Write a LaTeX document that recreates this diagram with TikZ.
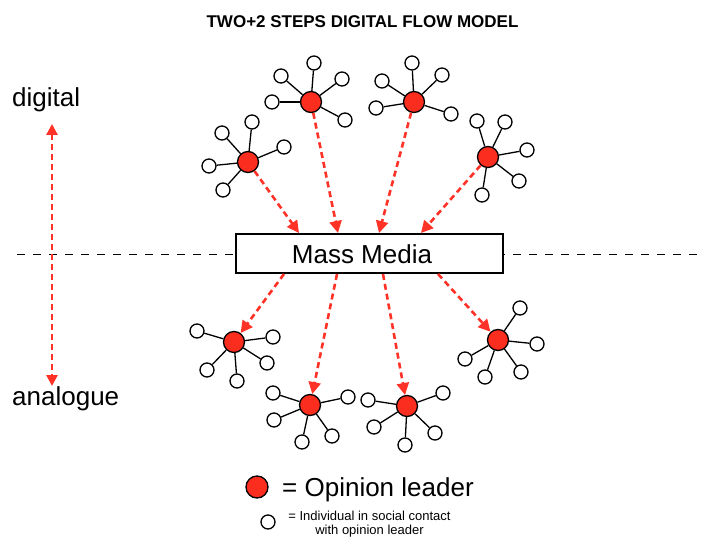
\documentclass[tikz,border=0pt]{standalone}
\usepackage{fontspec}
\setmainfont{Liberation Sans}
\usetikzlibrary{arrows.meta}
\definecolor{leaderred}{RGB}{250,45,30}
\definecolor{arrowred}{RGB}{255,50,40}
\tikzset{
  leader/.style={circle, draw=black, line width=1.3pt, fill=leaderred, minimum size=21pt, inner sep=0pt},
  sat/.style={circle, draw=black, line width=1.3pt, fill=white, minimum size=14pt, inner sep=0pt},
  tie/.style={draw=black, line width=1.3pt},
  flow/.style={draw=arrowred, line width=2.6pt, dash pattern=on 6pt off 4pt, -{Triangle[length=12pt,width=12pt]}},
  both/.style={draw=arrowred, line width=2.6pt, dash pattern=on 6pt off 4pt, {Triangle[length=11pt,width=11pt]}-{Triangle[length=11pt,width=11pt]}},
  divider/.style={draw=black, line width=1pt, dash pattern=on 8pt off 8pt},
  mediabox/.style={draw=black, line width=1.2pt, fill=white, minimum width=267pt, minimum height=39pt, inner sep=0pt},
  bigtext/.style={inner sep=0pt, font=\fontsize{26}{30}\selectfont},
}
\newcommand{\cluster}[3]{%
  \node[leader] (#1) at #2 {};
  \foreach \p [count=\i] in {#3} {
    \node[sat] (#1s\i) at \p {};
    \draw[tie] (#1) -- (#1s\i);
  }
}
\begin{document}
\begin{tikzpicture}[x=1pt,y=-1pt]
\useasboundingbox (0,0) rectangle (709,540);

% title
\node[inner sep=0pt, anchor=base, font=\fontsize{17}{20}\selectfont\bfseries] (title) at (362.5,28) {TWO+2 STEPS DIGITAL FLOW MODEL};

% divider line
\coordinate (dl) at (17,254);
\coordinate (dr) at (702,254);
\draw[divider] (dl) -- (dr);

% side labels and arrow
\node[bigtext, anchor=base west] (digital) at (12,107) {digital};
\node[bigtext, anchor=base west] (analogue) at (12,405) {analogue};
\coordinate (vtop) at (52,124);
\coordinate (vbot) at (52,386);
\draw[both] (vtop) -- (vbot);

% mass media box
\node[mediabox] (mm) at (369.5,253.5) {};
\node[bigtext] (mmtext) at (362,254) {Mass Media};

% top
\cluster{ca}{(248,162)}{(252,122),(222,133),(284,147),(209,166),(223,190)}
\cluster{cb}{(311,102)}{(314,63),(281,76),(342,79),(272,102),(345,120)}
\cluster{cc}{(414,102)}{(412,63),(382,81),(442,75),(376,108),(451,114)}
\cluster{cd}{(488,157)}{(477,121),(505,122),(527,150),(519,181),(482,195)}
% bottom
\cluster{ce}{(234,342)}{(197,331),(273,337),(267,363),(207,370),(237,381)}
\cluster{cf}{(310,405)}{(273,393),(348,397),(274,420),(332,436),(302,442)}
\cluster{cg}{(407,406)}{(368,400),(443,393),(374,427),(435,433),(405,445)}
\cluster{ch}{(498,340)}{(520,308),(537,344),(465,359),(521,372),(485,377)}

% top arrows into mass media
\coordinate (t1) at (299,233);
\coordinate (t2) at (338,233);
\coordinate (t3) at (379,233);
\coordinate (t4) at (421,233);
\draw[flow] (ca) -- (t1);
\draw[flow] (cb) -- (t2);
\draw[flow] (cc) -- (t3);
\draw[flow] (cd) -- (t4);

% bottom arrows out of mass media
\coordinate (b1) at (284,274);
\coordinate (b2) at (337,274);
\coordinate (b3) at (383,274);
\coordinate (b4) at (438,274);
\draw[flow] (b1) -- (ce);
\draw[flow] (b2) -- (cf);
\draw[flow] (b3) -- (cg);
\draw[flow] (b4) -- (ch);

% legend
\node[leader, minimum size=22pt] (legred) at (257,487) {};
\node[bigtext, anchor=base west] (legredtxt) at (282,496) {= Opinion leader};
\node[sat] (legsat) at (268,522) {};
\node[inner sep=0pt, anchor=north, align=center, font=\fontsize{13}{14}\selectfont] (legsattxt) at (369.5,511) {= Individual in social contact\\with opinion leader};
\end{tikzpicture}
\end{document}
